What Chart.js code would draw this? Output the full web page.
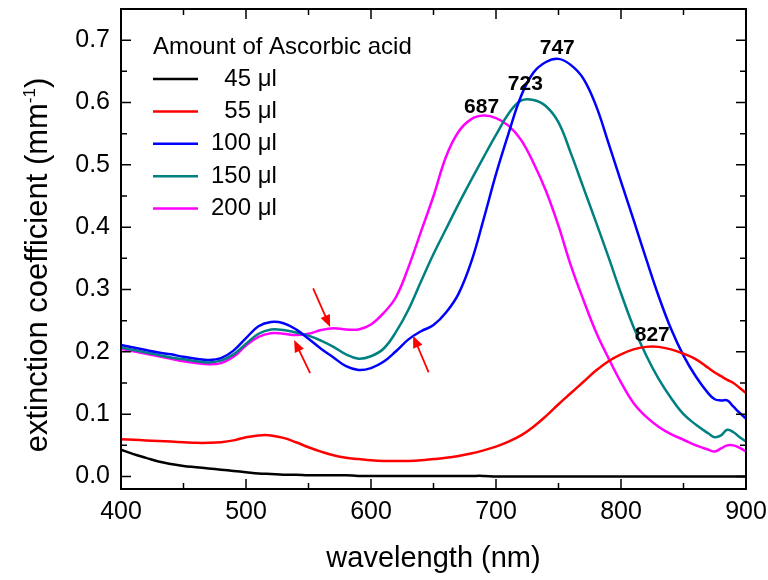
<!DOCTYPE html>
<html>
<head>
<meta charset="utf-8">
<script src="https://cdn.jsdelivr.net/npm/chart.js@4.4.0/dist/chart.umd.min.js"></script>
<style>
  html, body { margin: 0; padding: 0; background: #fff; }
</style>
</head>
<body>
<canvas id="grafico" width="768" height="580"></canvas>
<script>
// longitudes de onda (nm)
const wavelengths = [400, 410, 420, 430, 440, 450, 460, 470, 480, 490, 500, 510, 520, 530, 540, 550, 560, 570, 580, 590,
  600, 610, 620, 630, 640, 650, 660, 670, 680, 690, 700, 710, 720, 730, 740, 750, 760, 770, 780, 790,
  800, 810, 820, 830, 840, 850, 860, 870, 875, 880, 885, 890, 895, 900];

// coeficiente de extincion por cantidad de acido ascorbico
const serie45 = [0.043, 0.036, 0.030, 0.024, 0.020, 0.017, 0.015, 0.013, 0.011, 0.009, 0.007, 0.005, 0.004, 0.003, 0.003, 0.002, 0.002, 0.002, 0.002, 0.001,
  0.001, 0.001, 0.001, 0.001, 0.001, 0.001, 0.001, 0.001, 0.001, 0.001, 0.000, 0.000, 0.000, 0.000, 0.000, 0.000, 0.000, 0.000, 0.000, 0.000,
  0.000, 0.000, 0.000, 0.000, 0.000, 0.000, 0.000, 0.000, 0.000, 0.000, 0.000, 0.000, 0.000, 0.000];
const serie55 = [0.060, 0.059, 0.058, 0.057, 0.056, 0.055, 0.054, 0.054, 0.055, 0.058, 0.063, 0.066, 0.066, 0.062, 0.055, 0.047, 0.040, 0.034, 0.030, 0.028,
  0.026, 0.025, 0.025, 0.025, 0.026, 0.028, 0.030, 0.033, 0.037, 0.042, 0.048, 0.056, 0.066, 0.080, 0.097, 0.116, 0.134, 0.152, 0.170, 0.185,
  0.196, 0.204, 0.208, 0.208, 0.204, 0.197, 0.188, 0.174, 0.167, 0.161, 0.155, 0.150, 0.142, 0.134];
const serie100 = [0.211, 0.207, 0.203, 0.199, 0.196, 0.192, 0.189, 0.187, 0.190, 0.202, 0.222, 0.241, 0.248, 0.246, 0.236, 0.221, 0.205, 0.191, 0.177, 0.171,
  0.174, 0.184, 0.201, 0.220, 0.233, 0.243, 0.263, 0.293, 0.343, 0.412, 0.485, 0.550, 0.610, 0.648, 0.665, 0.670, 0.660, 0.638, 0.595, 0.535,
  0.473, 0.412, 0.350, 0.290, 0.237, 0.194, 0.160, 0.133, 0.124, 0.122, 0.122, 0.112, 0.102, 0.093];
const serie150 = [0.207, 0.203, 0.199, 0.195, 0.191, 0.188, 0.185, 0.183, 0.186, 0.196, 0.213, 0.229, 0.236, 0.235, 0.231, 0.226, 0.218, 0.208, 0.196, 0.189,
  0.193, 0.205, 0.232, 0.268, 0.313, 0.357, 0.397, 0.437, 0.475, 0.512, 0.548, 0.582, 0.603, 0.604, 0.594, 0.568, 0.518, 0.463, 0.408, 0.352,
  0.294, 0.240, 0.195, 0.157, 0.126, 0.100, 0.083, 0.069, 0.063, 0.066, 0.075, 0.071, 0.063, 0.056];
const serie200 = [0.205, 0.201, 0.197, 0.193, 0.189, 0.185, 0.182, 0.180, 0.182, 0.192, 0.210, 0.224, 0.230, 0.229, 0.227, 0.229, 0.235, 0.238, 0.236, 0.236,
  0.244, 0.262, 0.288, 0.336, 0.393, 0.450, 0.513, 0.553, 0.573, 0.579, 0.575, 0.563, 0.540, 0.503, 0.458, 0.402, 0.338, 0.283, 0.232, 0.190,
  0.151, 0.118, 0.096, 0.080, 0.068, 0.059, 0.050, 0.043, 0.040, 0.045, 0.050, 0.050, 0.046, 0.040];

const seriesLabels = ['  45 \u03bcl', '  55 \u03bcl', '100 \u03bcl', '150 \u03bcl', '200 \u03bcl'];
const seriesColors = ['#000000', '#ff0000', '#0000ff', '#008080', '#ff00ff'];

// ejes
const xTicks = [400, 500, 600, 700, 800, 900];
const xMinorTicks = [450, 550, 650, 750, 850];
const yTicks = [0.0, 0.1, 0.2, 0.3, 0.4, 0.5, 0.6, 0.7];
const yMinorTicks = [0.05, 0.15, 0.25, 0.35, 0.45, 0.55, 0.65];

// etiquetas de picos
const peakLabels = ['747', '723', '687', '827'];
const peakX = [749, 723.5, 688.5, 825];
const peakY = [0.687, 0.630, 0.593, 0.227];

// flechas rojas (desde -> hasta, en unidades de datos)
const arrowFromX = [553.7, 551.3, 646.1];
const arrowFromY = [0.302, 0.166, 0.167];
const arrowToX = [567.3, 538.5, 633.7];
const arrowToY = [0.240, 0.219, 0.226];

const FONT = "'Liberation Sans', Arial, sans-serif";

const todasSeries = [serie45, serie55, serie100, serie150, serie200];
const datasets = todasSeries.map((serie, i) => ({
  label: seriesLabels[i],
  data: serie.map((v, j) => ({ x: wavelengths[j], y: v })),
  borderColor: seriesColors[i],
  borderWidth: 2.5,
  pointRadius: 0,
  fill: false,
  tension: 0.4
}));

// sin relleno automatico alrededor del area del grafico
function sinRelleno(s) {
  s.paddingTop = 0; s.paddingBottom = 0; s.paddingLeft = 0; s.paddingRight = 0;
}

const decoracion = {
  id: 'decoracion',
  afterDatasetsDraw(chart) {
    const ctx = chart.ctx;
    const area = chart.chartArea;
    const sx = chart.scales.x;
    const sy = chart.scales.y;
    ctx.save();

    // marco
    ctx.strokeStyle = '#000';
    ctx.lineWidth = 2;
    ctx.strokeRect(area.left, area.top, area.right - area.left, area.bottom - area.top);

    // marcas hacia adentro en los cuatro lados
    ctx.lineWidth = 1.5;
    function marcaX(v, len) {
      const px = sx.getPixelForValue(v);
      ctx.beginPath();
      ctx.moveTo(px, area.bottom); ctx.lineTo(px, area.bottom - len);
      ctx.moveTo(px, area.top); ctx.lineTo(px, area.top + len);
      ctx.stroke();
    }
    function marcaY(v, len) {
      const py = sy.getPixelForValue(v);
      ctx.beginPath();
      ctx.moveTo(area.left, py); ctx.lineTo(area.left + len, py);
      ctx.moveTo(area.right, py); ctx.lineTo(area.right - len, py);
      ctx.stroke();
    }
    xTicks.forEach(v => marcaX(v, 10));
    xMinorTicks.forEach(v => marcaX(v, 6));
    yTicks.forEach(v => marcaY(v, 10));
    yMinorTicks.forEach(v => marcaY(v, 6));

    // leyenda
    ctx.fillStyle = '#000';
    ctx.font = '24px ' + FONT;
    ctx.textAlign = 'left';
    ctx.textBaseline = 'middle';
    ctx.fillText('Amount of Ascorbic acid', 153, 47);
    chart.data.datasets.forEach((ds, i) => {
      const y = 79 + i * 32.4;
      ctx.strokeStyle = ds.borderColor;
      ctx.lineWidth = 2.5;
      ctx.beginPath();
      ctx.moveTo(153, y); ctx.lineTo(198, y);
      ctx.stroke();
      ctx.fillStyle = '#000';
      ctx.fillText(ds.label, 211, y);
    });

    // etiquetas de picos
    ctx.font = 'bold 21px ' + FONT;
    ctx.textAlign = 'center';
    peakLabels.forEach((t, i) => {
      ctx.fillText(t, sx.getPixelForValue(peakX[i]), sy.getPixelForValue(peakY[i]));
    });

    // flechas
    ctx.strokeStyle = '#ff0000';
    ctx.fillStyle = '#ff0000';
    ctx.lineWidth = 1.8;
    arrowFromX.forEach((_, i) => {
      const x0 = sx.getPixelForValue(arrowFromX[i]), y0 = sy.getPixelForValue(arrowFromY[i]);
      const x1 = sx.getPixelForValue(arrowToX[i]), y1 = sy.getPixelForValue(arrowToY[i]);
      const ang = Math.atan2(y1 - y0, x1 - x0);
      const hl = 12, hw = 5;
      ctx.beginPath();
      ctx.moveTo(x0, y0);
      ctx.lineTo(x1 - hl * 0.8 * Math.cos(ang), y1 - hl * 0.8 * Math.sin(ang));
      ctx.stroke();
      ctx.beginPath();
      ctx.moveTo(x1, y1);
      ctx.lineTo(x1 - hl * Math.cos(ang) + hw * Math.sin(ang), y1 - hl * Math.sin(ang) - hw * Math.cos(ang));
      ctx.lineTo(x1 - hl * Math.cos(ang) - hw * Math.sin(ang), y1 - hl * Math.sin(ang) + hw * Math.cos(ang));
      ctx.closePath();
      ctx.fill();
    });

    // titulo eje y con superindice
    ctx.fillStyle = '#000';
    ctx.translate(36, 265);
    ctx.rotate(-Math.PI / 2);
    const base = 'extinction coefficient (mm';
    const sup = '-1';
    ctx.font = '31px ' + FONT;
    const wBase = ctx.measureText(base).width;
    const wClose = ctx.measureText(')').width;
    ctx.font = '17px ' + FONT;
    const wSup = ctx.measureText(sup).width;
    let xx = -(wBase + wSup + wClose) / 2;
    ctx.textAlign = 'left';
    ctx.textBaseline = 'alphabetic';
    ctx.font = '31px ' + FONT;
    ctx.fillText(base, xx, 11);
    xx += wBase;
    ctx.font = '17px ' + FONT;
    ctx.fillText(sup, xx, -1);
    xx += wSup;
    ctx.font = '31px ' + FONT;
    ctx.fillText(')', xx, 11);
    ctx.restore();
  }
};

new Chart(document.getElementById('grafico').getContext('2d'), {
  type: 'line',
  data: { datasets: datasets },
  options: {
    responsive: false,
    animation: false,
    layout: { padding: { left: 0, right: 22, top: 9, bottom: 0 } },
    plugins: { legend: { display: false }, tooltip: { enabled: false } },
    scales: {
      x: {
        type: 'linear',
        min: 400,
        max: 900,
        afterFit: s => { s.height = 91; sinRelleno(s); },
        afterBuildTicks: s => { s.ticks = xTicks.map(v => ({ value: v })); },
        grid: { display: false, drawTicks: false },
        border: { display: false },
        ticks: { color: '#000', font: { family: FONT, size: 25 }, padding: 8, maxRotation: 0 },
        title: {
          display: true,
          text: 'wavelength (nm)',
          color: '#000',
          font: { family: FONT, size: 29 },
          padding: { top: 0, bottom: 4 }
        }
      },
      y: {
        min: -0.02,
        max: 0.75,
        afterFit: s => { s.width = 121; sinRelleno(s); },
        afterBuildTicks: s => { s.ticks = yTicks.map(v => ({ value: v })); },
        grid: { display: false, drawTicks: false },
        border: { display: false },
        ticks: {
          color: '#000',
          font: { family: FONT, size: 25 },
          padding: 11,
          callback: v => v.toFixed(1)
        }
      }
    }
  },
  plugins: [decoracion]
});
</script>
</body>
</html>
